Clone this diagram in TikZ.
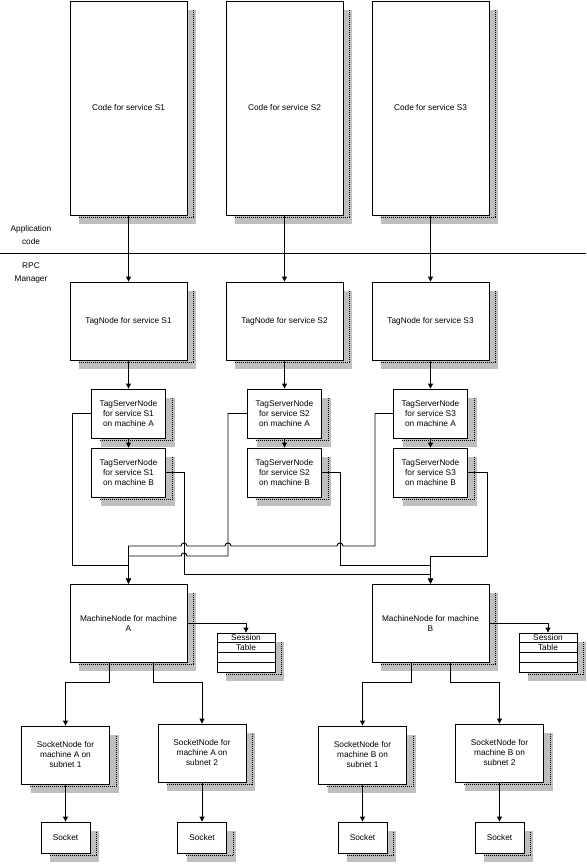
\documentclass[tikz,border=0pt]{standalone}
\usepackage{fontspec}
\setmainfont{Liberation Sans}
\usetikzlibrary{arrows.meta,shadows,calc}
\begin{document}
\begin{tikzpicture}[x=1pt,y=-1pt,
  box/.style={draw,line width=0.9pt,fill=white,inner sep=1pt,align=center,
    font=\fontsize{8.3}{10}\selectfont,
    drop shadow={shadow xshift=9pt,shadow yshift=-9pt,fill=black!25,opacity=1}},
  bigbox/.style={box,minimum width=117pt,minimum height=214pt},
  tagbox/.style={box,minimum width=117pt,minimum height=78pt},
  tsnbox/.style={box,minimum width=74pt,minimum height=49pt},
  sockbox/.style={box,minimum width=88pt,minimum height=58pt},
  sktbox/.style={box,minimum width=49pt,minimum height=31pt},
  tabbox/.style={box,minimum width=58pt,minimum height=39pt},
  lbl/.style={align=center,inner sep=0pt,font=\fontsize{8.3}{13}\selectfont},
  tabtxt/.style={inner sep=0pt,font=\fontsize{8.3}{10}\selectfont},
  ln/.style={line width=0.9pt},
  arr/.style={line width=0.9pt,-{Triangle[width=5pt,length=5pt]}},
  shdot/.style={line width=0.6pt,dash pattern=on 0.6pt off 1.4pt}
]
\useasboundingbox (0,0) rectangle (586,864);
\fill[white] (0,0) rectangle (586,864);

% top: application code
\node[bigbox] (c1) at (128.5,108) {Code for service S1};
\node[bigbox] (c2) at (284.5,108) {Code for service S2};
\node[bigbox] (c3) at (430.5,108) {Code for service S3};

\node[lbl] (app) at (31,235.5) {Application\\code};
\node[lbl] (rpc) at (31,273) {RPC\\Manager};
\draw[ln] (0,253) -- (586,253);

% tag nodes
\node[tagbox] (t1) at (128.5,321) {TagNode for service S1};
\node[tagbox] (t2) at (284.5,321) {TagNode for service S2};
\node[tagbox] (t3) at (430.5,321) {TagNode for service S3};

% tag server nodes
\node[tsnbox] (sA1) at (128.5,413.5) {TagServerNode\\for service S1\\on machine A};
\node[tsnbox] (sB1) at (128.5,472.5) {TagServerNode\\for service S1\\on machine B};
\node[tsnbox] (sA2) at (284.5,413.5) {TagServerNode\\for service S2\\on machine A};
\node[tsnbox] (sB2) at (284.5,472.5) {TagServerNode\\for service S2\\on machine B};
\node[tsnbox] (sA3) at (430.5,413.5) {TagServerNode\\for service S3\\on machine A};
\node[tsnbox] (sB3) at (430.5,472.5) {TagServerNode\\for service S3\\on machine B};

% machine nodes
\node[tagbox] (mA) at (128.5,623) {MachineNode for machine\\A};
\node[tagbox] (mB) at (430.5,623) {MachineNode for machine\\B};

% session tables
\node[tabbox] (tabA) at (246,652.5) {};
\node[tabbox] (tabB) at (548,652.5) {};

% socket nodes
\node[sockbox] (kA1) at (65.5,755) {SocketNode for\\machine A on\\subnet 1};
\node[sockbox] (kA2) at (202,753) {SocketNode for\\machine A on\\subnet 2};
\node[sockbox] (kB1) at (362.5,755) {SocketNode for\\machine B on\\subnet 1};
\node[sockbox] (kB2) at (499.5,753) {SocketNode for\\machine B on\\subnet 2};

% sockets
\node[sktbox] (oA1) at (65.5,837.5) {Socket};
\node[sktbox] (oA2) at (202,837.5) {Socket};
\node[sktbox] (oB1) at (362.5,837.5) {Socket};
\node[sktbox] (oB2) at (499.5,837.5) {Socket};

% dotted lines inside the shadows
\foreach \n in {c1,c2,c3,t1,t2,t3,sA1,sB1,sA2,sB2,sA3,sB3,mA,mB,tabA,tabB,kA1,kA2,kB1,kB2,oA1,oA2,oB1,oB2}
  \draw[shdot] ([xshift=9pt,yshift=-1.8pt]\n.south west) -- ([xshift=6pt,yshift=-1.8pt]\n.south east)
               -- ([xshift=6pt,yshift=-9pt]\n.north east);

% session table rows and texts
\foreach \t in {tabA,tabB}{
  \foreach \f in {0.24,0.5,0.75}
    \draw[ln] ($(\t.north west)!\f!(\t.south west)$) -- ($(\t.north east)!\f!(\t.south east)$);
}
\node[tabtxt] (tabAs) at (246,637.8) {Session};
\node[tabtxt] (tabAt) at (246,647.3) {Table};
\node[tabtxt] (tabBs) at (548,637.8) {Session};
\node[tabtxt] (tabBt) at (548,647.3) {Table};

% connectors: code -> tag -> tag servers
\foreach \i in {1,2,3}{
  \draw[arr] (c\i.south) -- (t\i.north);
  \draw[arr] (t\i.south) -- (sA\i.north);
  \draw[arr] (sA\i.south) -- (sB\i.north);
}

% tag servers -> machine nodes
\draw[arr] (sA1.west) -| (72,565) -| (mA.north);
\draw[arr] (sB1.east) -| (184,574) -| (mB.north);
\draw[arr] (sA2.west) -| (228,556) -- (187,556)
  .. controls (187,552) and (181,552) .. (181,556) -| (mA.north);
\draw[arr] (sB2.east) -| (340,565) -| (mB.north);
\draw[arr] (sA3.west) -| (375,546) -- (343,546)
  .. controls (343,542) and (337,542) .. (337,546) -- (231,546)
  .. controls (231,542) and (225,542) .. (225,546) -- (187,546)
  .. controls (187,542) and (181,542) .. (181,546) -| (mA.north);
\draw[arr] (sB3.east) -| (487,556) -| (mB.north);

% machine -> session table
\draw[arr] (mA.east) -| (tabA.north);
\draw[arr] (mB.east) -| (tabB.north);

% machine -> socket nodes
\draw[arr] ([xshift=-19.5pt]mA.south) -- ++(0,20) -| (kA1.north);
\draw[arr] ([xshift=24.5pt]mA.south) -- ++(0,20) -| (kA2.north);
\draw[arr] ([xshift=-19.5pt]mB.south) -- ++(0,20) -| (kB1.north);
\draw[arr] ([xshift=19.5pt]mB.south) -- ++(0,20) -| (kB2.north);

% socket nodes -> sockets
\draw[arr] (kA1.south) -- (oA1.north);
\draw[arr] (kA2.south) -- (oA2.north);
\draw[arr] (kB1.south) -- (oB1.north);
\draw[arr] (kB2.south) -- (oB2.north);
\end{tikzpicture}
\end{document}
